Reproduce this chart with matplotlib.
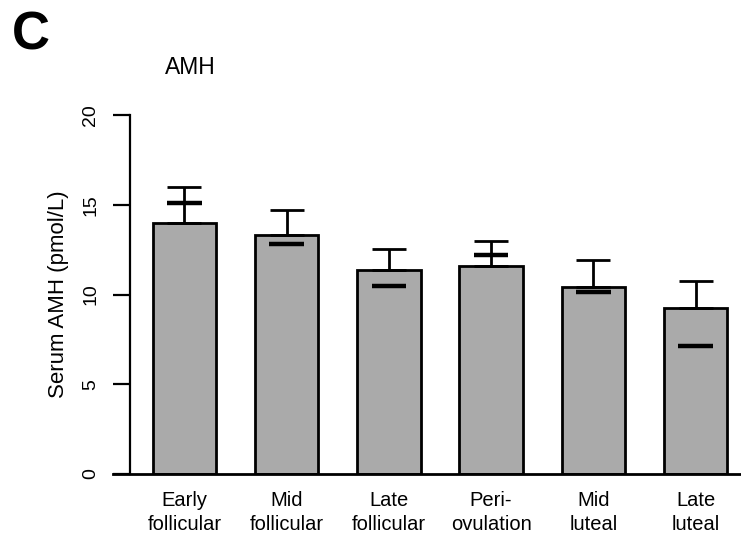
import numpy as np
import matplotlib
matplotlib.use('Agg')
import matplotlib.pyplot as plt

plt.rcParams['font.family'] = ['Liberation Sans', 'DejaVu Sans']

# serum AMH across menstrual cycle phases
phases = ['Early\nfollicular', 'Mid\nfollicular', 'Late\nfollicular',
          'Peri-\novulation', 'Mid\nluteal', 'Late\nluteal']
means = [14.0, 13.3, 11.35, 11.6, 10.43, 9.27]
upper = [15.97, 14.72, 12.52, 12.98, 11.92, 10.77]
medians = [15.1, 12.8, 10.49, 12.22, 10.14, 7.13]
yticks = [0, 5, 10, 15, 20]

fig = plt.figure(figsize=(7.41, 5.39), dpi=100)
ax = fig.add_axes([130 / 741, 1 - 474 / 539, 611 / 741, 359 / 539])

x = np.arange(len(phases))
ax.bar(x, means, width=0.62, color='#aaaaaa', edgecolor='black',
       linewidth=2.0, zorder=2)

# upper error bars only
err = np.array(upper) - np.array(means)
ax.errorbar(x, means, yerr=[np.zeros(len(x)), err], fmt='none',
            ecolor='black', elinewidth=2.0, capsize=12, capthick=2.0,
            zorder=3)

# median markers
ax.hlines(medians, x - 0.17, x + 0.17, colors='black', linewidth=3.2,
          zorder=4)

ax.set_xlim(-0.533, 5.445)
ax.set_ylim(0, 20)
ax.set_yticks(yticks)
ax.set_yticklabels([str(t) for t in yticks], rotation=90, va='center',
                   fontsize=14)
ax.tick_params(axis='y', length=12, width=1.6, pad=10)
ax.set_xticks(x)
ax.set_xticklabels(phases, fontsize=14.5, linespacing=1.35)
ax.tick_params(axis='x', length=0, pad=12)

for s in ['top', 'right', 'bottom']:
    ax.spines[s].set_visible(False)
ax.spines['left'].set_linewidth(1.6)

# baseline running past the axis to the edge
ax.axhline(0, xmin=-17 / 611, xmax=1.0, color='black', linewidth=2.0,
           clip_on=False, zorder=5)

ax.set_ylabel('Serum AMH (pmol/L)', fontsize=16, labelpad=10)

fig.text(190 / 741, 1 - 67 / 539, 'AMH', fontsize=16.5, ha='center',
         va='center')
fig.text(12 / 741, 1 - 50 / 539, 'C', fontsize=38, fontweight='bold',
         ha='left', va='baseline')

fig.savefig('out.png', dpi=100)
